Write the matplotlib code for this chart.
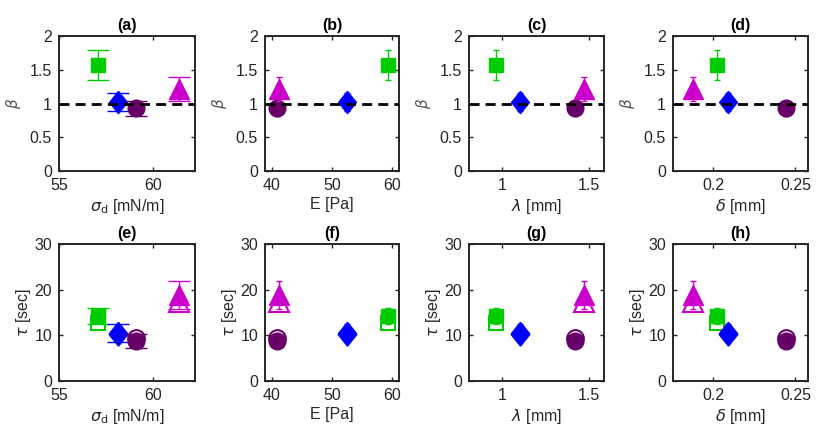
import matplotlib
matplotlib.use("Agg")
import matplotlib.pyplot as plt

plt.rcParams['font.family'] = ['Liberation Sans', 'DejaVu Sans']
plt.rcParams['mathtext.fontset'] = 'dejavusans'

# series order: green square, blue diamond, purple circle, magenta triangle
colors = ['#00cc00', '#0000ff', '#660066', '#cc00cc']
diamond = [(0, 1), (0.8, 0), (0, -1), (-0.8, 0), (0, 1)]
markers = ['s', diamond, 'o', '^']
msizes = [10.5, 16, 12, 15]

sigma_d = [57.06, 58.1, 59.1, 61.35]
E_pa = [59.3, 52.5, 40.95, 41.2]
lam = [0.964, 1.10, 1.42, 1.47]
delta = [0.2023, 0.2093, 0.2443, 0.188]

beta = [1.57, 1.02, 0.93, 1.21]
beta_err = [0.22, 0.13, 0.11, 0.18]

tau = [14.2, 10.5, 8.8, 18.8]
tau_err = [1.8, 1.9, 1.6, 3.1]
tau_open = [12.6, 10.3, 9.4, 17.4]

xdata = [sigma_d, E_pa, lam, delta]
xlabels = [r'$\sigma_{\mathrm{d}}$ [mN/m]', 'E [Pa]', r'$\lambda$ [mm]', r'$\delta$ [mm]']
xlims = [(55, 62.2), (38.9, 61.1), (0.809, 1.584), (0.1757, 0.2576)]
xticks = [[55, 60], [40, 50, 60], [1, 1.5], [0.2, 0.25]]
xticklabels = [['55', '60'], ['40', '50', '60'], ['1', '1.5'], ['0.2', '0.25']]
capsizes = [8, 2.5, 2.5, 2.5]

top_titles = ['(a)', '(b)', '(c)', '(d)']
bot_titles = ['(e)', '(f)', '(g)', '(h)']

fig = plt.figure(figsize=(8.3, 4.41), dpi=100)

lefts = [59, 265, 469, 673]
widths = [136, 134, 135, 135]
axcol = '#262626'


def style(ax):
    for s in ax.spines.values():
        s.set_linewidth(1.4)
        s.set_color(axcol)
    ax.tick_params(direction='in', length=3, width=1, top=True, right=True,
                   labelsize=11.5, colors=axcol, labelcolor=axcol, pad=5)


for i in range(4):
    # beta row
    ax = fig.add_axes([lefts[i] / 830, (441 - 171) / 441, widths[i] / 830, 135 / 441])
    for k in range(4):
        ax.errorbar(xdata[i][k], beta[k], yerr=beta_err[k], fmt='none',
                    ecolor=colors[k], elinewidth=1, capsize=capsizes[i], capthick=1)
        ax.plot(xdata[i][k], beta[k], marker=markers[k], ls='none',
                ms=msizes[k], mec=colors[k], mfc=colors[k])
    ax.axhline(1, color='black', lw=2, dashes=(3.6, 2.2), zorder=5)
    ax.set_xlim(*xlims[i])
    ax.set_ylim(0, 2)
    ax.set_yticks([0, 0.5, 1, 1.5, 2])
    ax.set_yticklabels(['0', '0.5', '1', '1.5', '2'])
    ax.set_xticks(xticks[i])
    ax.set_xticklabels(xticklabels[i])
    ax.set_xlabel(xlabels[i], fontsize=11.5, color=axcol, labelpad=3)
    ax.set_ylabel(r'$\beta$', fontsize=11, color='#555555', labelpad=5)
    ax.set_title(top_titles[i], fontsize=11.5, fontweight='bold', pad=4)
    style(ax)

    # tau row
    ax = fig.add_axes([lefts[i] / 830, (441 - 381) / 441, widths[i] / 830, 137 / 441])
    for k in range(4):
        ax.errorbar(xdata[i][k], tau[k], yerr=tau_err[k], fmt='none',
                    ecolor=colors[k], elinewidth=1, capsize=capsizes[i], capthick=1)
        ax.plot(xdata[i][k], tau[k], marker=markers[k], ls='none',
                ms=msizes[k], mec=colors[k], mfc=colors[k])
        ax.plot(xdata[i][k], tau_open[k], marker=markers[k], ls='none',
                ms=msizes[k], mfc='none', mec=colors[k], mew=1.5)
    ax.set_xlim(*xlims[i])
    ax.set_ylim(0, 30)
    ax.set_yticks([0, 10, 20, 30])
    ax.set_xticks(xticks[i])
    ax.set_xticklabels(xticklabels[i])
    ax.set_xlabel(xlabels[i], fontsize=11.5, color=axcol, labelpad=3)
    ax.set_ylabel(r'$\tau$ [sec]', fontsize=11.5, color=axcol, labelpad=1)
    ax.set_title(bot_titles[i], fontsize=11.5, fontweight='bold', pad=4)
    style(ax)

fig.savefig('out.png', dpi=100)
